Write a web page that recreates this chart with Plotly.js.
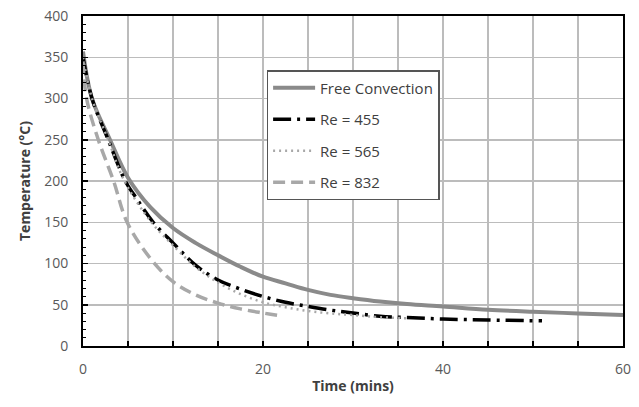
<!DOCTYPE html>
<html>
<head>
<meta charset="utf-8">
<script src="https://cdn.plot.ly/plotly-3.0.1.min.js"></script>
<style>html,body{margin:0;padding:0;background:#fff;}#chart{width:639px;height:407px;}</style>
</head>
<body>
<div id="chart"></div>
<script>
var freeT = [0, 1, 3, 5, 7.5, 10, 12.5, 15, 17.5, 20, 22.5, 25, 27.5, 30, 33, 36, 40, 45, 50, 55, 60];
var freeV = [357, 300, 250, 204, 168, 143, 125, 110, 96, 84, 76, 68, 62, 58, 54, 51, 48, 44, 41.5, 39.5, 37.5];

var re455T = [0, 1, 2.8, 4.7, 6, 7.8, 10, 12.5, 15, 17.5, 20, 22.5, 25, 27.5, 30, 33, 36, 40, 45, 51];
var re455V = [350, 300, 250, 200, 178, 150, 125, 98, 80, 69, 60, 53, 48, 43.5, 40, 36, 34.5, 32.7, 31.5, 30.5];

var re565T = [0, 1, 2.8, 4.6, 7.6, 10, 12.5, 15, 17.5, 20, 22.5, 25, 27.5, 30, 33, 36];
var re565V = [350, 300, 250, 200, 150, 122, 96, 77, 63, 53, 47, 42.5, 39.5, 37.5, 35, 33.5];

var re832T = [0, 0.4, 1.7, 3.4, 4.9, 7.5, 10, 12.5, 15, 17.5, 20, 22];
var re832V = [345, 300, 250, 200, 150, 106, 78, 62, 52, 45, 40, 36.5];

var names = ['Free Convection', 'Re = 455', 'Re = 565', 'Re = 832'];
var xTicks = [0, 20, 40, 60];
var yTicks = [0, 50, 100, 150, 200, 250, 300, 350, 400];

var traces = [
  {x: freeT, y: freeV, name: names[0], mode: 'lines', line: {color: '#8a8a8a', width: 4, shape: 'spline'}, legendgroup: 'a'},
  {x: re455T, y: re455V, name: names[1], mode: 'lines', line: {color: '#000000', width: 3.5, dash: '18px,6px,3px,6px', shape: 'spline'}, legendgroup: 'b'},
  {x: re565T, y: re565V, name: names[2], mode: 'lines', line: {color: '#a8a8a8', width: 2.5, dash: '2px,4px', shape: 'spline'}, legendgroup: 'c'},
  {x: re832T, y: re832V, name: names[3], mode: 'lines', line: {color: '#a8a8a8', width: 3.5, dash: '12px,6px', shape: 'spline'}, legendgroup: 'd'}
];

var fontFam = '"Open Sans", "Liberation Sans", sans-serif';

var layout = {
  width: 639, height: 407,
  margin: {l: 83, r: 16, t: 16, b: 61},
  paper_bgcolor: '#fff', plot_bgcolor: '#fff',
  showlegend: true,
  font: {family: fontFam, size: 14, color: '#595959'},
  xaxis: {
    range: [0, 60], tickvals: xTicks, ticktext: xTicks.map(String),
    showgrid: false, zeroline: false,
    showline: true, linecolor: '#000', linewidth: 2, mirror: true,
    ticks: 'inside', ticklen: 5, tickcolor: '#000', tickwidth: 1.5,
    ticklabelstandoff: 9,
    tickfont: {size: 14, color: '#595959'},
    minor: {dtick: 5, tick0: 0, showgrid: true, gridcolor: '#bcbcbc', gridwidth: 1.5, ticks: 'inside', ticklen: 5, tickcolor: '#000', tickwidth: 1.5},
    title: {text: '<b>Time (mins)</b>', font: {size: 14, color: '#404040'}, standoff: 4}
  },
  yaxis: {
    range: [0, 400], tickvals: yTicks, ticktext: yTicks.map(String),
    showgrid: true, gridcolor: '#bcbcbc', gridwidth: 1.5, zeroline: false,
    showline: true, linecolor: '#000', linewidth: 2, mirror: true,
    ticks: 'inside', ticklen: 5, tickcolor: '#000', tickwidth: 1.5,
    ticklabelstandoff: 10,
    tickfont: {size: 14, color: '#595959'},
    minor: {dtick: 10, tick0: 0, showgrid: false, ticks: 'inside', ticklen: 3, tickcolor: '#000', tickwidth: 1},
    title: {text: '<b>Temperature (°C)</b>', font: {size: 14, color: '#404040'}, standoff: 10}
  },
  legend: {
    x: 0.34, y: 0.836, xanchor: 'left', yanchor: 'top',
    bgcolor: '#fff', bordercolor: '#555', borderwidth: 1.5,
    font: {size: 15, color: '#404040'},
    itemwidth: 42,
    tracegroupgap: 9, traceorder: 'grouped'
  }
};

Plotly.newPlot('chart', traces, layout, {staticPlot: true});
</script>
</body>
</html>
